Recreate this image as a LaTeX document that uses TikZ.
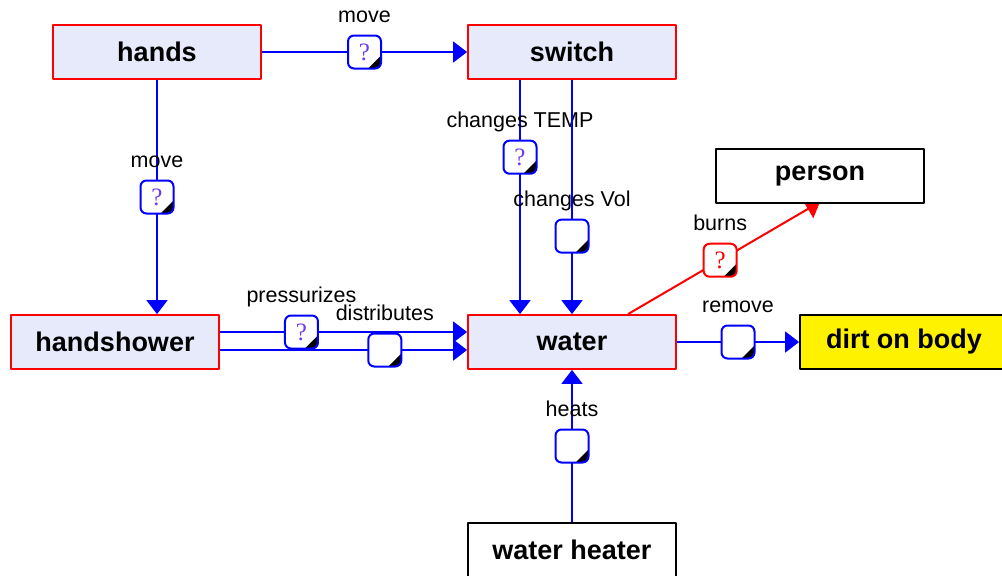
\documentclass[tikz,border=0pt]{standalone}
\usepackage{fontspec}
\setmainfont{Liberation Sans}
\newfontfamily\qfont{Liberation Serif}
\usetikzlibrary{arrows.meta}

\definecolor{boxfill}{RGB}{230,234,250}
\definecolor{qmark}{RGB}{110,60,240}

\pgfdeclarelayer{edges}
\pgfsetlayers{edges,main}

\tikzset{
  thing/.style={draw=red, fill=boxfill, line width=1.8pt, minimum width=208pt, minimum height=54pt,
    inner sep=0pt, font=\bfseries\fontsize{27}{30}\selectfont},
  plain/.style={thing, draw=black, fill=white},
  link/.style={draw=blue, line width=2pt, -{Triangle[length=14pt,width=21pt]}},
  qual/.style={draw=blue, fill=white, line width=2pt, rounded corners=6pt, minimum size=33pt,
    inner sep=0pt, font=\qfont\fontsize{25}{25}\selectfont, text=qmark,
    path picture={\fill[black, sharp corners] (path picture bounding box.south east)
      -- ++(-13pt,0pt) -- ++(13pt,13pt) -- cycle;}},
  lbl/.style={font=\fontsize{21.5}{24}\selectfont, text=black, inner sep=1pt, text depth=0pt, label distance=10pt},
}

\begin{document}
\begin{tikzpicture}[x=1pt, y=-1pt, line cap=round, line join=round]

  %% ════ Dinge ════
  \node[thing] (hands)      at (157,52)  {hands};
  \node[thing] (switch)     at (572,52)  {switch};
  \node[plain] (person)     at (820,176) {person};
  \node[thing] (handshower) at (115,342) {handshower};
  \node[thing] (water)      at (572,342) {water};
  \node[plain, fill=yellow] (dirt) at (904,342) {dirt on body};
  \node[plain] (heater)     at (572,550) {water heater};

  %% ════ Wirkungen (hinter den Kästen) ════
  \begin{pgfonlayer}{edges}
  \draw[link] (hands) -- node[qual, label={[lbl]above:move}] (qmove) {?} (switch);
  \draw[link] (hands.south) -- node[qual, label={[lbl]above:move}] (qhand) {?} (hands.south |- handshower.north);
  \draw[link] ([xshift=-52pt]switch.south) -- node[qual, pos=0.33, label={[lbl]above:changes TEMP}] (qtemp) {?} ([xshift=-52pt]water.north);
  \draw[link] (switch) -- node[qual, pos=0.667, label={[lbl]above:changes Vol}] (qvol) {} (water);
  \draw[link] ([yshift=10pt]handshower.east) -- node[qual, pos=0.33, label={[lbl]above:pressurizes}] (qpress) {?} ([yshift=10pt]water.west);
  \draw[link] ([yshift=-8pt]handshower.east) -- node[qual, pos=0.667, label={[lbl]above:distributes}] (qdist) {} ([yshift=-8pt]water.west);
  \draw[link] (water) -- node[qual, label={[lbl]above:remove}] (qremove) {} (dirt);
  \draw[link] (heater) -- node[qual, label={[lbl]above:heats}] (qheat) {} (water);
  % rot: schaedlich
  \draw[link, draw=red] ([xshift=56pt]water.north) -- node[qual, pos=0.48, draw=red, text=red, label={[lbl]above:burns}] (qburn) {?} ([xshift=0pt,yshift=2pt]person.south);
  \end{pgfonlayer}

  % Leinwand fest
  \pgfresetboundingbox
  \path[use as bounding box] (0,0) rectangle (1002,576);
\end{tikzpicture}
\end{document}
